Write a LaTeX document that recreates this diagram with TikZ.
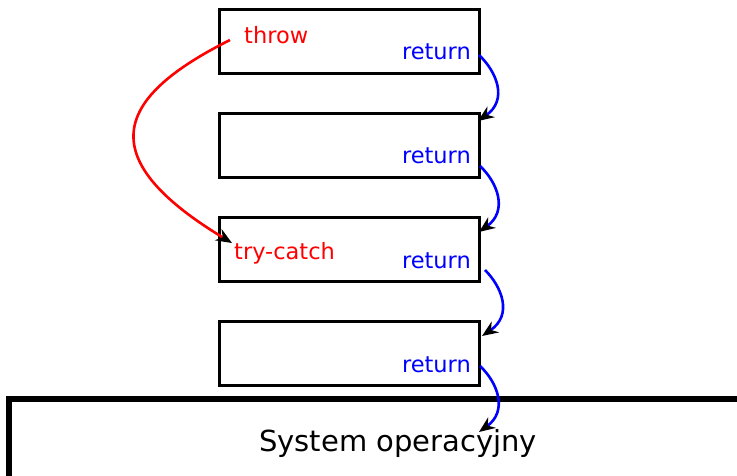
\documentclass[tikz,border=0pt]{standalone}
\usepackage{fontspec}
\setmainfont{DejaVu Sans}
\usetikzlibrary{arrows.meta}
\begin{document}
\begin{tikzpicture}[x=1pt,y=-1pt,
  frame/.style={draw=black,line width=2.8pt,minimum width=260pt,minimum height=64pt,inner sep=0pt,anchor=north west},
  retlbl/.style={text=blue,font=\fontsize{22.5}{24}\selectfont,anchor=base east,inner sep=0pt},
  redlbl/.style={text=red,font=\fontsize{22.5}{24}\selectfont,anchor=base west,inner sep=0pt},
  retarrow/.style={draw=blue,line width=2.6pt,-{Stealth[black,length=16pt,width=13pt]}},
  throwarrow/.style={draw=red,line width=2.6pt,-{Stealth[black,length=16pt,width=13pt]}}]
\useasboundingbox (0,0) rectangle (737,476);
\node[frame] (b1) at (218,8) {};
\node[frame] (b2) at (218,112) {};
\node[frame] (b3) at (218,216) {};
\node[frame] (b4) at (218,320) {};
\draw[line width=5.5pt] (9,399) rectangle (750,490);
\node[anchor=base,inner sep=0pt,font=\fontsize{29}{32}\selectfont] (os) at (398,451) {System operacyjny};
\node[redlbl] (throw) at (244,44) {throw};
\node[redlbl] (catch) at (234,259) {try-catch};
\node[retlbl] (r1) at (471,60) {return};
\node[retlbl] (r2) at (471,164) {return};
\node[retlbl] (r3) at (471,268) {return};
\node[retlbl] (r4) at (471,372) {return};
\coordinate (s1) at (479,55);
\coordinate (e1) at (478,121);
\coordinate (s2) at (480,166);
\coordinate (e2) at (479,232);
\coordinate (s3) at (485,270);
\coordinate (e3) at (482,336);
\coordinate (s4) at (480,366);
\coordinate (e4) at (479,432);
\coordinate (ts) at (230,40);
\coordinate (te) at (232,243);
\draw[retarrow] (s1) .. controls (497,72) and (508,100) .. (e1);
\draw[retarrow] (s2) .. controls (498,183) and (508,211) .. (e2);
\draw[retarrow] (s3) .. controls (502,287) and (513,315) .. (e3);
\draw[retarrow] (s4) .. controls (498,383) and (508,411) .. (e4);
\draw[throwarrow] (ts) .. controls (118,96) and (88,156) .. (te);
\end{tikzpicture}
\end{document}
